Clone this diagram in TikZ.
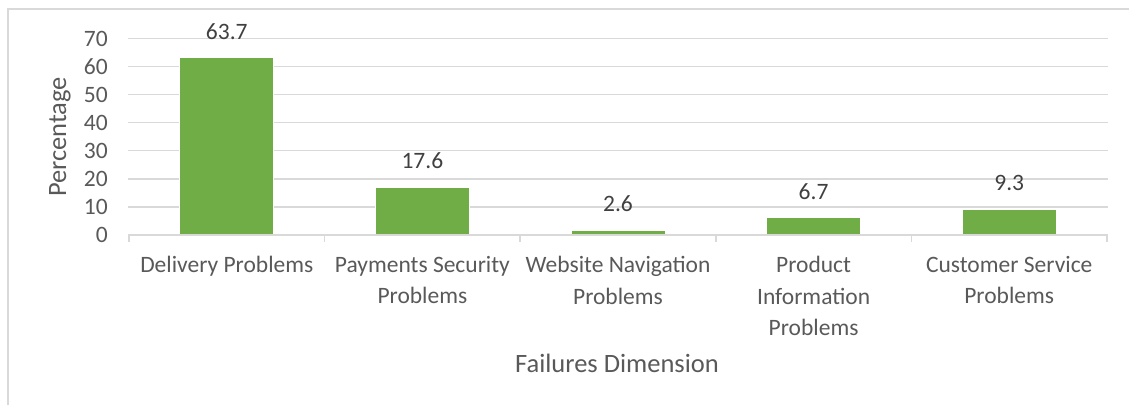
\documentclass[tikz,border=0pt]{standalone}
\usepackage{fontspec}
\setmainfont{Carlito}
\definecolor{grid}{HTML}{D9D9D9}
\definecolor{bar}{HTML}{70AD47}
\definecolor{txt}{HTML}{595959}
\definecolor{lbl}{HTML}{404040}
\begin{document}
\begin{tikzpicture}[x=1pt,y=-1pt,
  gridline/.style={draw=grid,line width=1.3pt},
  axisline/.style={draw=grid,line width=1.6pt},
  barbox/.style={fill=bar,draw=white,line width=1pt},
  ticklbl/.style={text=txt,font=\fontsize{23.5}{26}\selectfont,anchor=east,inner sep=0pt},
  catlbl/.style={text=txt,font=\fontsize{23.5}{31.5}\selectfont,align=center,anchor=north,inner sep=0pt},
  vallbl/.style={text=lbl,font=\fontsize{23.5}{26}\selectfont,inner sep=0pt},
  titlelbl/.style={text=txt,font=\fontsize{26.5}{30}\selectfont,inner sep=0pt}]
\useasboundingbox (0,0) rectangle (1129,405);
% frame
\draw[grid,line width=1.3pt] (8,405) -- (8,9) -- (1129,9);
% gridlines
\foreach \v in {10,20,...,70}{
  \draw[gridline] (128,235-\v*2.807) -- (1108,235-\v*2.807);
}
% tick labels
\foreach \v in {0,10,...,70}{
  \node[ticklbl] (t\v) at (108,235-\v*2.807) {\v};
}
% bars
\foreach \i/\h/\lab/\nm in {0/63.1/63.7/a,1/17.1/17.6/b,2/1.6/2.6/c,3/6.1/6.7/d,4/9.0/9.3/e}{
  \pgfmathsetmacro{\cx}{226.8+195.6*\i}
  \pgfmathsetmacro{\top}{235-\h*2.807}
  \draw[barbox] (\cx-47,235) rectangle (\cx+47,\top);
  \node[vallbl] (v\nm) at (\cx,\top-26.5) {\lab};
}
% axis
\draw[axisline] (128,235) -- (1108,235);
\foreach \x in {0,...,5}{
  \draw[axisline] (129+195.6*\x,235) -- (129+195.6*\x,242);
}
% category labels
\node[catlbl] (ca) at (226.8,256) {Delivery Problems};
\node[catlbl] (cb) at (422.4,256) {Payments Security\\Problems};
\node[catlbl] (cc) at (618,256) {Website Navigation\\Problems};
\node[catlbl] (cd) at (813.6,256) {Product\\Information\\Problems};
\node[catlbl] (ce) at (1009.2,256) {Customer Service\\Problems};
% titles
\node[titlelbl,rotate=90] (ytitle) at (60,137) {Percentage};
\node[titlelbl] (xtitle) at (617,363) {Failures Dimension};
\end{tikzpicture}
\end{document}
